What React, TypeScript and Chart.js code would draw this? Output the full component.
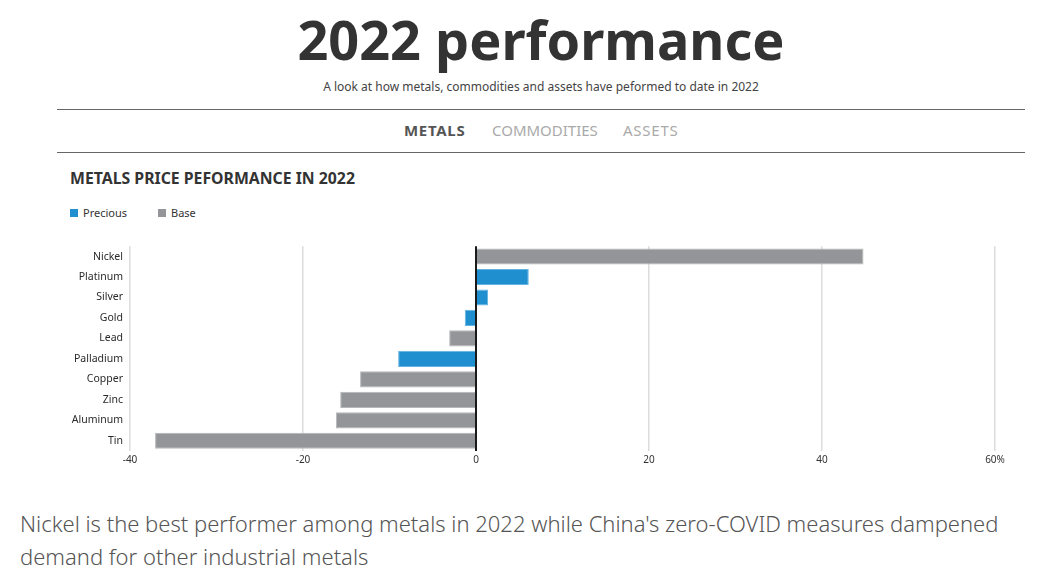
import React, { useEffect, useRef } from "react";
import { Chart, registerables } from "chart.js";

Chart.register(...registerables);

const categories = ["Nickel", "Platinum", "Silver", "Gold", "Lead", "Palladium", "Copper", "Zinc", "Aluminum", "Tin"];
const values = [44.8, 6.1, 1.4, -1.3, -3.1, -9.0, -13.4, -15.7, -16.2, -37.1];
const groups = ["Base", "Precious", "Precious", "Precious", "Base", "Precious", "Base", "Base", "Base", "Base"];
const seriesNames = ["Precious", "Base"];
const xTicks = [-40, -20, 0, 20, 40, 60];

const COLORS: Record<string, string> = { Precious: "#1f8fd0", Base: "#939598" };
const BORDERS: Record<string, string> = { Precious: "#63b3e3", Base: "#b5b6b8" };

const FONT = '"Noto Sans", "Open Sans", sans-serif';

export default function App() {
  const canvasRef = useRef<HTMLCanvasElement | null>(null);

  useEffect(() => {
    document.body.style.margin = "0";
    if (!canvasRef.current) return;
    const datasets = seriesNames.map((name) => ({
      label: name,
      data: values.map((v, i) => (groups[i] === name ? v : null)),
      backgroundColor: COLORS[name],
      borderColor: BORDERS[name],
      borderWidth: 1,
      categoryPercentage: 1,
      barPercentage: 0.79,
    }));
    const chart = new Chart(canvasRef.current, {
      type: "bar",
      data: { labels: categories, datasets },
      options: {
        indexAxis: "y",
        animation: false,
        responsive: true,
        maintainAspectRatio: false,
        layout: { padding: { top: 0, right: 25, left: 0, bottom: 0 } },
        plugins: { legend: { display: false }, tooltip: { enabled: false } },
        scales: {
          x: {
            stacked: true,
            min: xTicks[0],
            max: xTicks[xTicks.length - 1],
            afterBuildTicks: (scale: any) => {
              scale.ticks = xTicks.map((v) => ({ value: v }));
            },
            ticks: {
              padding: 3,
              color: "#333",
              font: { family: FONT, size: 10 },
              callback: (v: any) => (Number(v) === 60 ? "60%" : String(v)),
              maxRotation: 0,
            },
            grid: {
              drawTicks: false,
              color: (ctx: any) => (ctx.tick && ctx.tick.value === 0 ? "#1a1a1a" : "#dcdcdc"),
              lineWidth: (ctx: any) => (ctx.tick && ctx.tick.value === 0 ? 2 : 1.5),
            },
            border: { display: false },
          },
          y: {
            stacked: true,
            afterFit: (scale: any) => {
              scale.width = 70;
            },
            ticks: {
              padding: 7,
              color: "#2a2a2a",
              font: { family: FONT, size: 10.5 },
            },
            grid: { display: false, drawTicks: false },
            border: { display: false },
          },
        },
      },
    });
    return () => chart.destroy();
  }, []);

  return (
    <div style={{ position: "relative", width: 1060, height: 583, fontFamily: FONT, color: "#333", overflow: "hidden" }}>
      <div style={{ position: "absolute", left: 0, width: 1082, top: 4, textAlign: "center", fontSize: 54, fontWeight: 700, lineHeight: "70px", color: "#333" }}>
        2022 performance
      </div>
      <div style={{ position: "absolute", left: 0, width: 1082, top: 79, textAlign: "center", fontSize: 12, lineHeight: "16px", color: "#444" }}>
        A look at how metals, commodities and assets have peformed to date in 2022
      </div>
      <div style={{ position: "absolute", left: 57, width: 968, top: 109, height: 1, background: "#666" }} />
      <div style={{ position: "absolute", left: 404, top: 120, fontSize: 15, lineHeight: "20px", fontWeight: 700, color: "#555", letterSpacing: 0.7 }}>METALS</div>
      <div style={{ position: "absolute", left: 492, top: 120, fontSize: 15, lineHeight: "20px", color: "#aaa" }}>COMMODITIES</div>
      <div style={{ position: "absolute", left: 623, top: 120, fontSize: 15, lineHeight: "20px", color: "#aaa", letterSpacing: 0.75 }}>ASSETS</div>
      <div style={{ position: "absolute", left: 57, width: 968, top: 152, height: 1, background: "#666" }} />
      <div style={{ position: "absolute", left: 70, top: 168, fontSize: 15.8, lineHeight: "20px", fontWeight: 700, color: "#333" }}>
        METALS PRICE PEFORMANCE IN 2022
      </div>
      <div style={{ position: "absolute", left: 70, top: 206, fontSize: 11, lineHeight: "14px", color: "#333", display: "flex", alignItems: "center" }}>
        <span style={{ display: "inline-block", width: 8, height: 8, background: COLORS.Precious, marginRight: 5 }} />
        <span style={{ marginRight: 31 }}>Precious</span>
        <span style={{ display: "inline-block", width: 8, height: 8, background: COLORS.Base, marginRight: 5 }} />
        <span>Base</span>
      </div>
      <div style={{ position: "absolute", left: 60, top: 233, width: 960, height: 236 }}>
        <canvas ref={canvasRef} />
      </div>
      <div style={{ position: "absolute", left: 20, top: 507, width: 1000, fontSize: 22, fontWeight: 300, lineHeight: "33px", color: "#555" }}>
        Nickel is the best performer among metals in 2022 while China's zero-COVID measures dampened demand for other industrial metals
      </div>
    </div>
  );
}
